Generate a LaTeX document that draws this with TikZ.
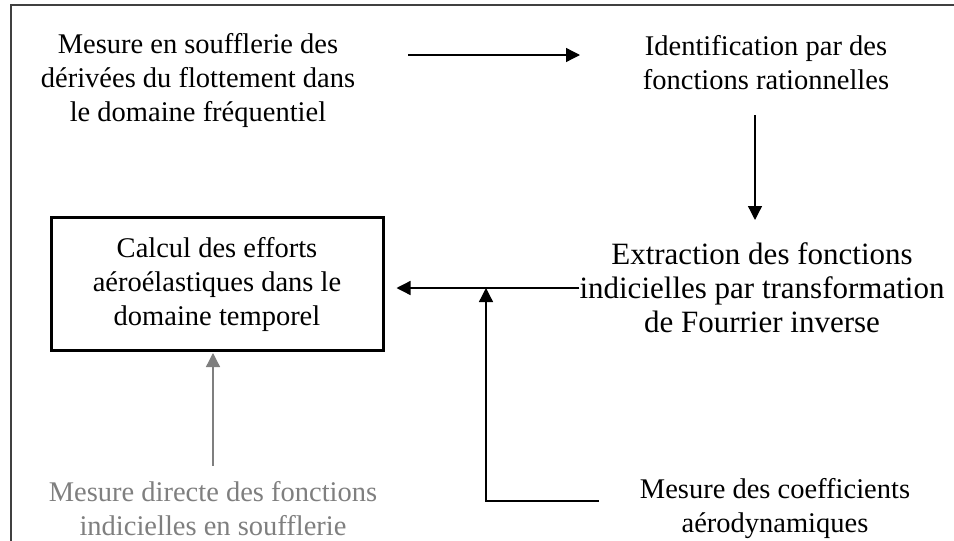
\documentclass[tikz,border=0pt]{standalone}
\usepackage{fontspec}
\setmainfont{Liberation Serif}
\usetikzlibrary{arrows.meta}
\definecolor{framegray}{HTML}{404040}
\definecolor{directgray}{HTML}{7F7F7F}

\begin{document}
\begin{tikzpicture}[
  x=1pt,
  y=-1pt,
  line join=miter,
  step text/.style={inner sep=0pt,align=center,font=\fontsize{28.5}{34}\selectfont},
  wide text/.style={step text,font=\fontsize{31}{34}\selectfont},
  flow/.style={draw=black,line width=1.3pt,-{Triangle[length=14pt,width=14pt]}},
  directflow/.style={draw=directgray,line width=1.3pt,-{Triangle[length=14pt,width=14pt]}}
]
  % Page frame of the scanned figure.
  \useasboundingbox (0,0) rectangle (954,541);
  \draw[framegray,line width=2.5pt] (11,541) -- (11,5) -- (954,5);

  % Steps of the procedure.
  \node[step text] (deriv) at (198,80) {Mesure en soufflerie des\\dérivées du flottement dans\\le domaine fréquentiel};
  \node[step text] (ident) at (766,63) {Identification par des\\fonctions rationnelles};
  \node[wide text] (extr) at (762,288) {Extraction des fonctions\\indicielles par transformation\\de Fourrier inverse};
  \node[step text,draw,line width=3pt,minimum width=332pt,minimum height=133pt] (calc) at (217,284) {Calcul des efforts\\aéroélastiques dans le\\domaine temporel};
  \node[step text,text=directgray] (direct) at (213,509) {Mesure directe des fonctions\\indicielles en soufflerie};
  \node[step text] (coef) at (775,509) {Mesure des coefficients\\aérodynamiques};

  % Free ends of the connectors.
  \coordinate (derivEnd) at (408,55);
  \coordinate (identIn) at (580,55);
  \coordinate (identOut) at (755,115);
  \coordinate (extrIn) at (755,220);
  \coordinate (coefOut) at (599,501);
  \coordinate (elbow) at (486,501);

  % Connectors.
  \draw[flow] (derivEnd) -- (identIn);
  \draw[flow] (identOut) -- (extrIn);
  \draw[flow,shorten >=12pt] (extr.west) -- (extr.west -| calc.east);
  \draw[flow] (coefOut) -- (elbow) -- (elbow |- extr.west);
  \draw[directflow,shorten <=16pt,shorten >=1pt] (direct.north) -- (direct.north |- calc.south);
\end{tikzpicture}
\end{document}
